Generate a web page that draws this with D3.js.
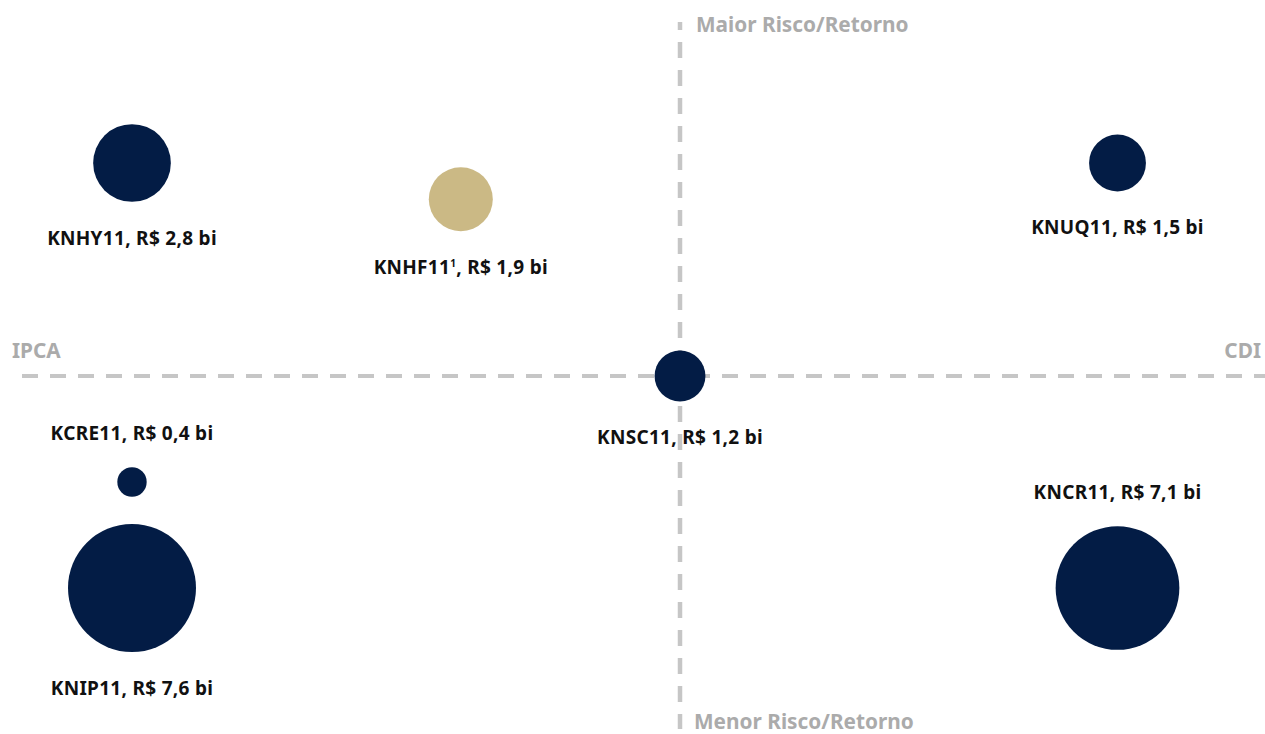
<!DOCTYPE html>
<html lang="pt-BR">
<head>
<meta charset="UTF-8">
<title>Mapa de fundos - risco/retorno</title>
<script src="https://cdn.jsdelivr.net/npm/d3@7"></script>
<style>
  html, body { margin: 0; padding: 0; background: #fff; }
  svg { display: block; }
  .axis-label { font-family: "Noto Sans", sans-serif; font-weight: 700; font-size: 20.8px; fill: #ababab; }
  .fund-label { font-family: "Noto Sans", sans-serif; font-weight: 700; font-size: 19px; letter-spacing: 0.3px; fill: #111; }
</style>
</head>
<body>
<div id="chart"></div>
<script>
// fund data
var funds     = ["KNHY11", "KNHF11", "KNUQ11", "KNSC11", "KCRE11", "KNIP11", "KNCR11"];
var aum       = [2.8, 1.9, 1.5, 1.2, 0.4, 7.6, 7.1];          // R$ bi
var indexer   = [-1, -0.4, 1, 0, -1, -1, 1];                  // -1 = IPCA ... +1 = CDI
var risk      = [1, 0.83, 1, 0, -0.5, -1, -1];                // -1 = menor ... +1 = maior
var labelSide = ["below", "below", "below", "below", "above", "below", "above"];
var notes     = ["", "1", "", "", "", "", ""];
var hybrid    = [false, true, false, false, false, false, false];

var axisTop = "Maior Risco/Retorno", axisBottom = "Menor Risco/Retorno";
var axisLeft = "IPCA", axisRight = "CDI";

var width = 1265, height = 734;
var cx = 680, cy = 376;

var x = d3.scaleLinear().domain([-1, 0, 1]).range([132, cx, 1117.5]);
var y = d3.scaleLinear().domain([-1, 0, 1]).range([588, cy, 163]);
var r = d3.scaleSqrt().domain([0, 7.6]).range([0, 64]);

var data = funds.map(function(f, i) {
  return {name: f, aum: aum[i], x: indexer[i], y: risk[i], side: labelSide[i], note: notes[i], hybrid: hybrid[i]};
});

var svg = d3.select("#chart").append("svg")
    .attr("width", width)
    .attr("height", height);

// quadrant lines
svg.append("line")
    .attr("x1", 22).attr("x2", width)
    .attr("y1", cy).attr("y2", cy)
    .attr("stroke", "#c6c6c6").attr("stroke-width", 4)
    .attr("stroke-dasharray", "16,12");

svg.append("line")
    .attr("x1", cx).attr("x2", cx)
    .attr("y1", 22).attr("y2", 729)
    .attr("stroke", "#c6c6c6").attr("stroke-width", 4.5)
    .attr("stroke-dasharray", "16,12")
    .attr("stroke-dashoffset", 8);

svg.append("text").attr("class", "axis-label")
    .attr("x", 696).attr("y", 31.5).text(axisTop);
svg.append("text").attr("class", "axis-label")
    .attr("x", 694).attr("y", 729).text(axisBottom);
svg.append("text").attr("class", "axis-label")
    .attr("x", 12).attr("y", 357.5).text(axisLeft);
svg.append("text").attr("class", "axis-label")
    .attr("x", 1261).attr("y", 357.5).attr("text-anchor", "end").text(axisRight);

// bubbles
svg.append("g").selectAll("circle")
  .data(data)
  .enter().append("circle")
    .attr("cx", function(d) { return x(d.x); })
    .attr("cy", function(d) { return y(d.y); })
    .attr("r", function(d) { return r(d.aum); })
    .attr("fill", function(d) { return d.hybrid ? "#cbb985" : "#031c45"; });

// labels
var fmt = function(v) { return v.toFixed(1).replace(".", ","); };

var labels = svg.append("g").selectAll("text")
  .data(data)
  .enter().append("text")
    .attr("class", "fund-label")
    .attr("text-anchor", "middle")
    .attr("x", function(d) { return x(d.x); })
    .attr("y", function(d) {
      return d.side == "below" ? y(d.y) + r(d.aum) + 43 : y(d.y) - r(d.aum) - 27;
    });

labels.append("tspan").text(function(d) { return d.name; });
labels.filter(function(d) { return d.note; })
  .append("tspan")
    .attr("dy", -7).attr("font-size", "10px")
    .text(function(d) { return d.note; });
labels.append("tspan")
    .attr("dy", function(d) { return d.note ? 7 : null; })
    .text(function(d) { return ", R$ " + fmt(d.aum) + " bi"; });
</script>
</body>
</html>
